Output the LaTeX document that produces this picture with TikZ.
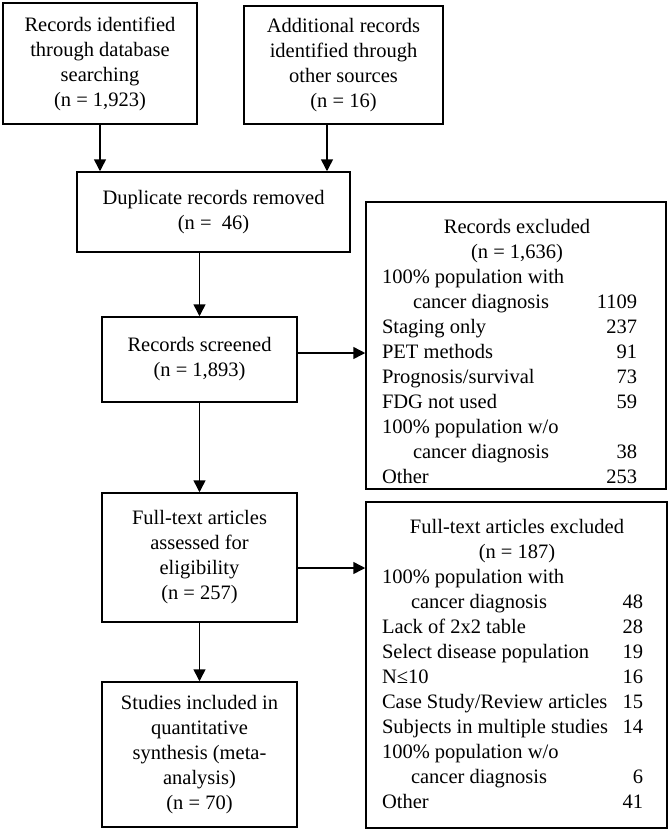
\documentclass[tikz,border=0pt]{standalone}
\usepackage{fontspec}
\setmainfont{Liberation Serif}
\usepackage{tikz}
\usetikzlibrary{arrows.meta}

\begin{document}
\begin{tikzpicture}[x=1pt, y=-1pt,
        flowbox/.style={draw, line width=1.5pt, align=center, inner sep=0pt,
            font=\fontsize{20.5}{25}\selectfont},
        exbox/.style={draw, line width=1.5pt, inner sep=0pt},
        extext/.style={inner sep=0pt, font=\fontsize{20.5}{25}\selectfont},
        arr/.style={line width=1.5pt, -{Triangle[length=12pt, width=12pt]}}]
        \useasboundingbox (0, 0) rectangle (670, 831);
        \node[flowbox, minimum width=194pt, minimum height=121pt] (db) at (100, 63.5)
            {Records identified\\through database\\searching\\(n = 1,923)};
        \node[flowbox, minimum width=199pt, minimum height=118pt] (other) at (343.5, 65)
            {Additional records\\identified through\\other sources\\(n = 16)};
        \node[flowbox, minimum width=273pt, minimum height=80pt] (dup) at (213.5, 212)
            {Duplicate records removed\\(n = \ 46)};
        \node[flowbox, minimum width=195pt, minimum height=85pt] (screened) at (199.5, 359.5)
            {Records screened\\(n = 1,893)};
        \node[flowbox, minimum width=195pt, minimum height=129pt] (full) at (199.5, 557.5)
            {Full-text articles\\assessed for\\eligibility\\(n = 257)};
        \node[flowbox, minimum width=195pt, minimum height=145pt] (studies) at (199.5, 754.5)
            {Studies included in\\quantitative\\synthesis (meta-\\analysis)\\(n = 70)};
        \node[exbox, minimum width=300pt, minimum height=287pt] (excl1) at (516, 345.5) {};
        \node[extext] (excl1text) at (517, 353) {\begin{tabular*}{270pt}{@{}l@{\extracolsep{\fill}}r@{\hspace{15pt}}}
            \multicolumn{2}{@{}c@{}}{Records excluded}\\
            \multicolumn{2}{@{}c@{}}{(n = 1,636)}\\
            100\% population with & \\
            \hspace*{31pt}cancer diagnosis & 1109\\
            Staging only & 237\\
            PET methods & 91\\
            Prognosis/survival & 73\\
            FDG not used & 59\\
            100\% population w/o & \\
            \hspace*{31pt}cancer diagnosis & 38\\
            Other & 253
        \end{tabular*}};
        \node[exbox, minimum width=301pt, minimum height=326pt] (excl2) at (516.5, 665) {};
        \node[extext] (excl2text) at (517, 665.5) {\begin{tabular*}{270pt}{@{}l@{\extracolsep{\fill}}r@{\hspace{9pt}}}
            \multicolumn{2}{@{}c@{}}{Full-text articles excluded}\\
            \multicolumn{2}{@{}c@{}}{(n = 187)}\\
            100\% population with & \\
            \hspace*{29pt}cancer diagnosis & 48\\
            Lack of 2x2 table & 28\\
            Select disease population & 19\\
            N≤10 & 16\\
            Case Study/Review articles & 15\\
            Subjects in multiple studies & 14\\
            100\% population w/o & \\
            \hspace*{29pt}cancer diagnosis & 6\\
            Other & 41
        \end{tabular*}};
        \draw[arr] (db.south) -- (db.south |- dup.north);
        \draw[arr] ([xshift=-16.5pt]other.south) -- ([xshift=-16.5pt]other.south |- dup.north);
        \draw[arr] (dup.south -| screened.north) -- (screened.north);
        \draw[arr] (screened.south) -- (full.north);
        \draw[arr] (full.south) -- (studies.north);
        \draw[arr] ([yshift=6.5pt]screened.east) -- ([yshift=6.5pt]screened.east -| excl1.west);
        \draw[arr] ([yshift=-10.5pt]full.east) -- ([yshift=-10.5pt]full.east -| excl2.west);
\end{tikzpicture}
\end{document}
